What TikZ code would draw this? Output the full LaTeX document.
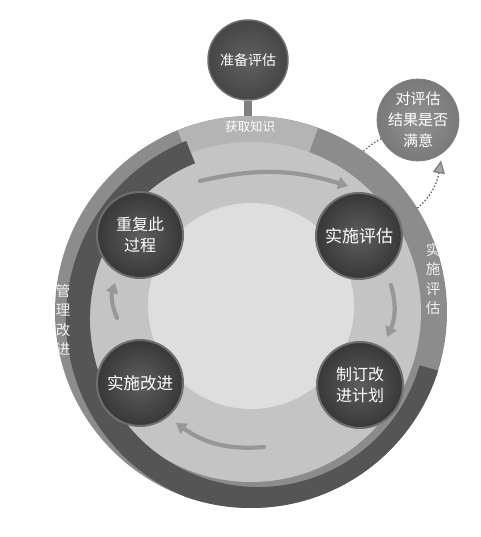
\documentclass[tikz,border=0pt]{standalone}
\usepackage{fontspec}
\newfontfamily\cjk{Noto Sans CJK SC}
\usetikzlibrary{arrows.meta,calc}
\definecolor{outerg}{HTML}{8C8C8C}
\definecolor{topg}{HTML}{B4B4B4}
\definecolor{darkband}{HTML}{555555}
\definecolor{midg}{HTML}{C4C4C4}
\definecolor{innerg}{HTML}{DEDEDE}
\definecolor{nodein}{HTML}{5E5E5E}
\definecolor{nodeout}{HTML}{383838}
\definecolor{noderim}{HTML}{6E6E6E}
\definecolor{flowg}{HTML}{979797}
\definecolor{dotg}{HTML}{666666}
\definecolor{tipg}{HTML}{A8A8A8}
\begin{document}
\begin{tikzpicture}[x=1pt,y=1pt,
  stepnode/.style={circle, minimum size=86pt, inner sep=0pt, draw=noderim, line width=2pt,
    inner color=nodein, outer color=nodeout, text=white, align=center,
    font=\cjk\fontsize{16}{20.5}\selectfont},
  topnode/.style={circle, minimum size=80pt, inner sep=0pt, draw=noderim, line width=1.5pt,
    inner color=gray!75!black, outer color=gray!55!black, text=white, align=center,
    font=\cjk\fontsize{14}{18}\selectfont},
  asknode/.style={circle, minimum size=76pt, inner sep=0pt, draw=gray, line width=1pt,
    inner color=gray!85, outer color=gray!95!black, text=white, align=center,
    font=\cjk\fontsize{15}{21}\selectfont},
  bandlabel/.style={text=white!94!black, align=center, inner sep=0pt,
    font=\cjk\fontsize{14.5}{19.5}\selectfont},
  flow/.style={draw=flowg, line width=4.2pt, line cap=round,
    -{Triangle[width=12pt,length=10pt]}},
  dotline/.style={draw=dotg, line width=1.4pt, dash pattern=on 1.4pt off 2pt}
]
\useasboundingbox (0,0) rectangle (480,537);

% big wheel
\node[circle, minimum size=392pt, inner sep=0pt, fill=outerg] (big) at (251,225) {};
\fill[topg] (251,225) -- ++(70:196) arc[start angle=70, end angle=112, radius=196] -- cycle;
\fill[midg] (251,225) circle (170);
\begin{scope}
  \clip (251,225) circle (196);
  \fill[darkband] (258,218) ++(112:192) arc[start angle=112, end angle=344, radius=192]
     -- ++(164:24) arc[start angle=344, end angle=112, radius=168] -- cycle;
\end{scope}
\fill[innerg] (251,231) circle (103);

% flow arrows inside the wheel
\coordinate (t1) at (200,356);
\coordinate (t2) at (348,351);
\coordinate (r1) at (391,252);
\coordinate (r2) at (387,200);
\coordinate (b1) at (264,90);
\coordinate (b2) at (176,114);
\coordinate (l1) at (117,219);
\coordinate (l2) at (115,254);
\draw[flow] (t1) to[bend left=15] (t2);
\draw[flow] (r1) to[bend left=20] (r2);
\draw[flow] (b1) to[bend left=20] (b2);
\draw[flow] (l1) to[bend left=20] (l2);

% step nodes
\node[stepnode] (n1) at (140,302) {重复此\\过程};
\node[stepnode, font=\cjk\fontsize{17}{21}\selectfont] (n2) at (359,301) {实施评估};
\node[stepnode] (n3) at (360,152) {制订改\\进计划};
\node[stepnode, font=\cjk\fontsize{16.5}{21}\selectfont] (n4) at (140,154) {实施改进};

% top node and stem
\node[topnode] (p) at (248,477) {准备评估};
\draw[line width=8pt, draw=gray] (p.south) -- (p.south |- big.north);
\node[text=white, inner sep=0pt, font=\cjk\fontsize{12.5}{14}\selectfont] (k) at (250,410) {获取知识};

% question node
\node[asknode] (q) at (418,417) {对评估\\结果是否\\满意};
\draw[dotline] (big.55.6) to[bend left=8] (q.207);
\draw[dotline, -{Triangle[width=12pt,length=13pt,fill=tipg,color=gray]}, shorten >=7pt]
  (big.32) to[out=40, in=-100] (q.-54);

% band labels
\node[bandlabel] (s1) at (433,258) {实\\施\\评\\估};
\node[bandlabel] (s2) at (63,217) {管\\理\\改\\进};
\end{tikzpicture}
\end{document}
